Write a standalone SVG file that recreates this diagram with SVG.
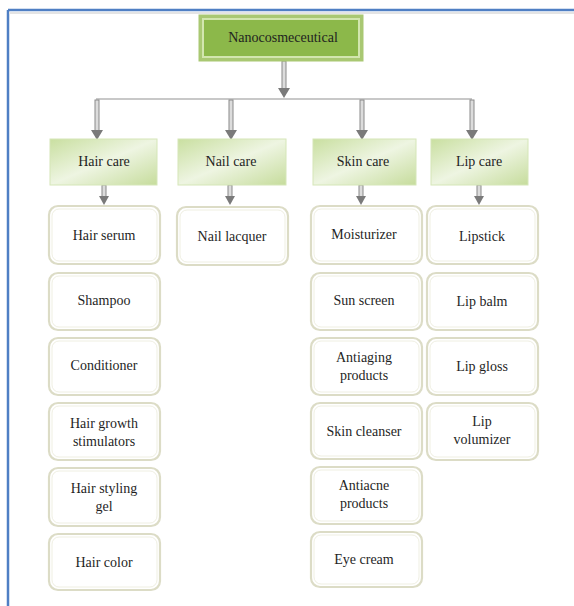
<svg xmlns="http://www.w3.org/2000/svg" width="574" height="606" viewBox="0 0 574 606" font-family="'Liberation Serif', 'DejaVu Serif', serif">
  <defs>
    <linearGradient id="catFill" x1="0" y1="0" x2="1" y2="1">
      <stop offset="0" stop-color="#c9dfa0"/>
      <stop offset="0.5" stop-color="#eef5e2"/>
      <stop offset="1" stop-color="#c6dc9c"/>
    </linearGradient>
  </defs>
  <style>
    text { font-family: "Liberation Serif", "DejaVu Serif", serif; font-size: 14px; fill: #1f1f1f; text-anchor: middle; }
    .root-outer { fill: #a9c873; stroke: #a9c873; }
    .root-inner { fill: #8cb84a; stroke: #d2e6ae; stroke-width: 2; }
    .cat { fill: url(#catFill); stroke: #d5e6b8; stroke-width: 1; }
    .item { fill: #ffffff; stroke: #dcdcc6; stroke-width: 2.2; }
    .item-in { fill: none; stroke: #efefe2; stroke-width: 1; }
    .stem { fill: #dcdcdc; stroke: #8a8a8a; stroke-width: 1; }
    .head { fill: #7a7a7a; }
    .bus { stroke: #c8c8c8; stroke-width: 2; fill: none; }
    .frame { stroke: #4f7fc4; stroke-width: 2.5; fill: none; }
  </style>

  <rect width="574" height="606" fill="#ffffff"/>
  <!-- page frame: top and left rules -->
  <line class="frame" x1="8" y1="10" x2="574" y2="10"/>
  <line class="frame" x1="8" y1="10" x2="8" y2="606"/>
  <line x1="9" y1="13" x2="574" y2="13" stroke="#e4e4e4" stroke-width="2"/>

  <!-- connectors -->
  <g id="connectors">
    <rect class="stem" x="282" y="61" width="4" height="28"/>
    <path class="head" d="M278,88 L290,88 L284,98 Z"/>
    <line class="bus" x1="96" y1="99" x2="472" y2="99"/>
    <!-- to categories -->
    <rect class="stem" x="95" y="100" width="4" height="31"/>
    <path class="head" d="M91,130 L103,130 L97,140 Z"/>
    <rect class="stem" x="229" y="100" width="4" height="31"/>
    <path class="head" d="M225,130 L237,130 L231,140 Z"/>
    <rect class="stem" x="360" y="100" width="4" height="31"/>
    <path class="head" d="M356,130 L368,130 L362,140 Z"/>
    <rect class="stem" x="470" y="100" width="4" height="31"/>
    <path class="head" d="M466,130 L478,130 L472,140 Z"/>
    <!-- to first items -->
    <rect class="stem" x="102" y="185" width="4" height="12"/>
    <path class="head" d="M99,196 L109,196 L104,205 Z"/>
    <rect class="stem" x="228" y="185" width="4" height="12"/>
    <path class="head" d="M225,196 L235,196 L230,205 Z"/>
    <rect class="stem" x="359" y="185" width="4" height="12"/>
    <path class="head" d="M356,196 L366,196 L361,205 Z"/>
    <rect class="stem" x="477" y="185" width="4" height="12"/>
    <path class="head" d="M474,196 L484,196 L479,205 Z"/>
  </g>

  <!-- root -->
  <g id="root">
    <rect class="root-outer" x="199" y="15" width="164" height="46"/>
    <rect class="root-inner" x="203" y="19" width="156" height="38"/>
    <text x="283" y="42">Nanocosmeceutical</text>
  </g>

  <!-- categories -->
  <g id="hair-care"><rect class="cat" x="50" y="139" width="107" height="46"/><text x="104" y="166">Hair care</text></g>
  <g id="nail-care"><rect class="cat" x="178" y="139" width="108" height="46"/><text x="231" y="166">Nail care</text></g>
  <g id="skin-care"><rect class="cat" x="313" y="139" width="103" height="46"/><text x="363" y="166">Skin care</text></g>
  <g id="lip-care"><rect class="cat" x="431" y="139" width="97" height="46"/><text x="479" y="166">Lip care</text></g>

  <!-- hair care items -->
  <g id="hair-serum"><rect class="item" x="49" y="206" width="111" height="58" rx="9"/><rect class="item-in" x="52" y="209" width="105" height="52" rx="7"/><text x="104" y="240">Hair serum</text></g>
  <g id="shampoo"><rect class="item" x="49" y="273" width="111" height="57" rx="9"/><rect class="item-in" x="52" y="276" width="105" height="51" rx="7"/><text x="104" y="305">Shampoo</text></g>
  <g id="conditioner"><rect class="item" x="49" y="338" width="111" height="57" rx="9"/><rect class="item-in" x="52" y="341" width="105" height="51" rx="7"/><text x="104" y="370">Conditioner</text></g>
  <g id="hair-growth"><rect class="item" x="49" y="403" width="111" height="57" rx="9"/><rect class="item-in" x="52" y="406" width="105" height="51" rx="7"/><text x="104" y="428">Hair growth</text><text x="104" y="446">stimulators</text></g>
  <g id="hair-styling"><rect class="item" x="49" y="468" width="111" height="58" rx="9"/><rect class="item-in" x="52" y="471" width="105" height="52" rx="7"/><text x="104" y="493">Hair styling</text><text x="104" y="511">gel</text></g>
  <g id="hair-color"><rect class="item" x="49" y="534" width="111" height="56" rx="9"/><rect class="item-in" x="52" y="537" width="105" height="50" rx="7"/><text x="104" y="567">Hair color</text></g>

  <!-- nail care items -->
  <g id="nail-lacquer"><rect class="item" x="177" y="207" width="111" height="58" rx="9"/><rect class="item-in" x="180" y="210" width="105" height="52" rx="7"/><text x="232" y="241">Nail lacquer</text></g>

  <!-- skin care items -->
  <g id="moisturizer"><rect class="item" x="311" y="206" width="111" height="58" rx="9"/><rect class="item-in" x="314" y="209" width="105" height="52" rx="7"/><text x="364" y="239">Moisturizer</text></g>
  <g id="sun-screen"><rect class="item" x="311" y="273" width="111" height="57" rx="9"/><rect class="item-in" x="314" y="276" width="105" height="51" rx="7"/><text x="364" y="305">Sun screen</text></g>
  <g id="antiaging"><rect class="item" x="311" y="338" width="111" height="57" rx="9"/><rect class="item-in" x="314" y="341" width="105" height="51" rx="7"/><text x="364" y="362">Antiaging</text><text x="364" y="380">products</text></g>
  <g id="skin-cleanser"><rect class="item" x="311" y="403" width="111" height="56" rx="9"/><rect class="item-in" x="314" y="406" width="105" height="50" rx="7"/><text x="364" y="436">Skin cleanser</text></g>
  <g id="antiacne"><rect class="item" x="311" y="467" width="111" height="57" rx="9"/><rect class="item-in" x="314" y="470" width="105" height="51" rx="7"/><text x="364" y="490">Antiacne</text><text x="364" y="508">products</text></g>
  <g id="eye-cream"><rect class="item" x="311" y="532" width="111" height="55" rx="9"/><rect class="item-in" x="314" y="535" width="105" height="49" rx="7"/><text x="364" y="564">Eye cream</text></g>

  <!-- lip care items -->
  <g id="lipstick"><rect class="item" x="427" y="206" width="111" height="58" rx="9"/><rect class="item-in" x="430" y="209" width="105" height="52" rx="7"/><text x="482" y="241">Lipstick</text></g>
  <g id="lip-balm"><rect class="item" x="427" y="273" width="111" height="57" rx="9"/><rect class="item-in" x="430" y="276" width="105" height="51" rx="7"/><text x="482" y="306">Lip balm</text></g>
  <g id="lip-gloss"><rect class="item" x="427" y="338" width="111" height="57" rx="9"/><rect class="item-in" x="430" y="341" width="105" height="51" rx="7"/><text x="482" y="371">Lip gloss</text></g>
  <g id="lip-volumizer"><rect class="item" x="427" y="403" width="111" height="57" rx="9"/><rect class="item-in" x="430" y="406" width="105" height="51" rx="7"/><text x="482" y="426">Lip</text><text x="482" y="444">volumizer</text></g>
</svg>
